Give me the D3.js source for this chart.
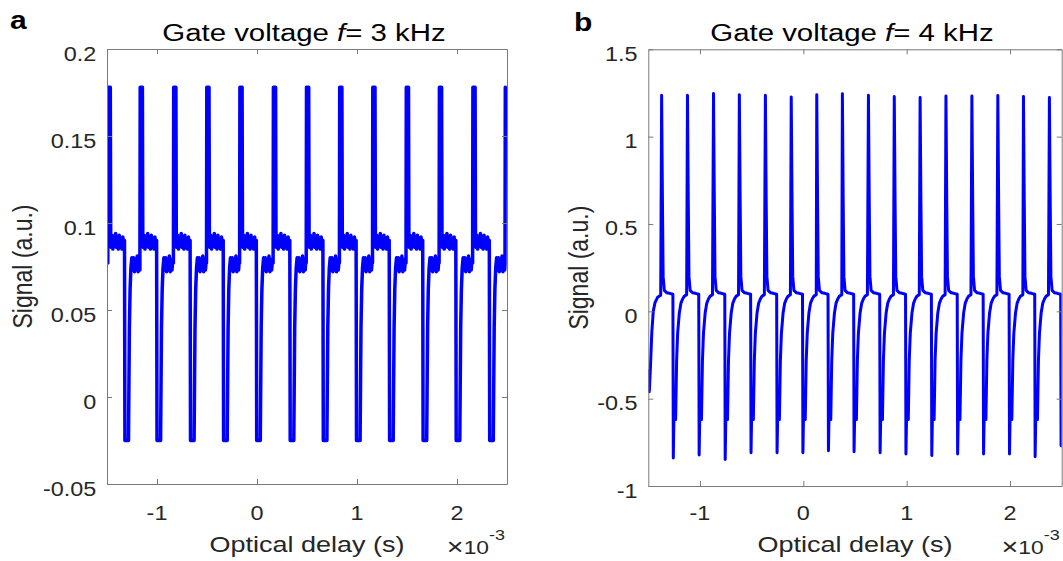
<!DOCTYPE html>
<html>
<head>
<meta charset="utf-8">
<script src="https://cdn.jsdelivr.net/npm/d3@7"></script>
<style>
  body { margin: 0; background: #fff; }
  svg { display: block; font-family: "Liberation Sans", Arial, sans-serif; }
</style>
</head>
<body>
<svg id="chart" width="1063" height="561"></svg>
<script>
// ---- data (time in units of 1e-3 s) ----
const xTicks = [-1, 0, 1, 2];
const leftYTicks = [-0.05, 0, 0.05, 0.1, 0.15, 0.2];
const rightYTicks = [-1, -0.5, 0, 0.5, 1, 1.5];

// panel a: 3 kHz gate, spike centres
const leftSpikeTimes = [-1.477, -1.156, -0.821, -0.49, -0.159, 0.176, 0.507, 0.839, 1.17, 1.505, 1.836, 2.171, 2.495];
const leftPeaks = [0.178, 0.178, 0.178, 0.178, 0.178, 0.178, 0.178, 0.178, 0.178, 0.178, 0.178, 0.178, 0.178];
const leftDips = [-0.025, -0.025, -0.025, -0.025, -0.025, -0.025, -0.025, -0.025, -0.025, -0.025, -0.025, -0.025, -0.025];
const leftLeadIn = [[-1.5, 0.079]];
// one period of the trace, offsets from the spike centre
const leftCycle = [
  [-0.015, 0.077], [-0.012, "peak"], [0.01, "peak"], [0.014, 0.092],
  [0.019, 0.086], [0.027, 0.093], [0.036, 0.085], [0.045, 0.092], [0.054, 0.087],
  [0.063, 0.094], [0.072, 0.086], [0.081, 0.092], [0.09, 0.085], [0.099, 0.093],
  [0.108, 0.087], [0.117, 0.091], [0.126, 0.085], [0.135, 0.092], [0.144, 0.087],
  [0.152, 0.09], [0.156, "dip"], [0.192, "dip"],
  [0.196, 0.005], [0.201, 0.04], [0.208, 0.062], [0.216, 0.074], [0.225, 0.08],
  [0.234, 0.073], [0.243, 0.08], [0.252, 0.072], [0.261, 0.079], [0.27, 0.074],
  [0.279, 0.081], [0.288, 0.072], [0.297, 0.079], [0.306, 0.073], [0.312, 0.078],
];

// panel b: 4 kHz gate
const rightSpikeTimes = [-1.371, -1.121, -0.869, -0.619, -0.367, -0.117, 0.13, 0.378, 0.63, 0.88, 1.13, 1.38, 1.631, 1.882, 2.13, 2.381];
const rightPeaks = [1.237, 1.237, 1.247, 1.24, 1.237, 1.227, 1.24, 1.245, 1.237, 1.23, 1.224, 1.232, 1.232, 1.235, 1.23, 1.224];
const rightDips = [-0.84, -0.823, -0.848, -0.81, -0.81, -0.81, -0.798, -0.804, -0.81, -0.817, -0.826, -0.817, -0.817, -0.817, -0.832, -0.77];
const rightLeadIn = [[-1.5, -0.34], [-1.49, -0.46], [-1.478, -0.3], [-1.466, -0.12], [-1.452, 0.0], [-1.435, 0.05], [-1.41, 0.08], [-1.38, 0.092]];
const rightCycle = [
  [0, "peak"], [0.008, 0.62], [0.0145, 0.2], [0.026, 0.12], [0.051, 0.106],
  [0.077, 0.103], [0.109, 0.098], [0.113, "dip"], [0.123, -0.45], [0.1355, -0.62],
  [0.145, -0.28], [0.155, -0.125], [0.171, -0.01], [0.187, 0.047], [0.204, 0.072],
  [0.22, 0.087], [0.242, 0.095],
];

// ---- build traces from the arrays ----
function buildTrace(leadIn, spikes, peaks, dips, cycle, tEnd) {
  const pts = leadIn.map(([t, v]) => ({ t, v }));
  spikes.forEach((ts, i) => {
    const next = i < spikes.length - 1 ? spikes[i + 1] + cycle[0][0] : Infinity;
    cycle.forEach(([dt, v]) => {
      const t = ts + dt;
      if (t >= next || t > tEnd) return;
      const val = v === "peak" ? peaks[i] : v === "dip" ? dips[i] : v;
      pts.push({ t, v: val });
    });
  });
  return pts;
}

const leftTrace = buildTrace(leftLeadIn, leftSpikeTimes, leftPeaks, leftDips, leftCycle, 2.5);
const rightTrace = buildTrace(rightLeadIn, rightSpikeTimes, rightPeaks, rightDips, rightCycle, 2.52);

const svg = d3.select("#chart");
const axisColor = "#7a7a7a";
const textColor = "#262626";
const sx = 1.2; // the figure is stretched sideways

const panels = [
  {
    tag: "a", tagX: 10, tagY: 29, left: 107, right: 507, top: 49, bottom: 484,
    yDomain: [-0.05, 0.2], yTicks: leftYTicks, trace: leftTrace, freq: "3",
    lw: 3.5, xLabY: 36, yLabX: 32,
  },
  {
    tag: "b", tagX: 574, tagY: 31, left: 648.3, right: 1061.7, top: 49.3, bottom: 486,
    yDomain: [-1, 1.5], yTicks: rightYTicks, trace: rightTrace, freq: "4",
    lw: 3, xLabY: 33.5, yLabX: 588,
  },
];

const defs = svg.append("defs");

panels.forEach((p, i) => {
  const x = d3.scaleLinear().domain([-1.5, 2.5]).range([p.left, p.right]);
  const y = d3.scaleLinear().domain(p.yDomain).range([p.bottom, p.top]);
  const g = svg.append("g");

  defs.append("clipPath").attr("id", `clip${i}`)
    .append("rect")
    .attr("x", p.left).attr("y", p.top)
    .attr("width", p.right - p.left).attr("height", p.bottom - p.top);

  // trace
  const line = d3.line().x((d) => x(d.t)).y((d) => y(d.v));
  g.append("path")
    .datum(p.trace)
    .attr("clip-path", `url(#clip${i})`)
    .attr("fill", "none")
    .attr("stroke", "#0000ff")
    .attr("stroke-width", p.lw)
    .attr("stroke-linejoin", "round")
    .attr("stroke-linecap", "round")
    .attr("d", line);

  // box with inward ticks on all sides
  const axes = [
    [d3.axisBottom(x).tickValues(xTicks), `translate(0,${p.bottom})`],
    [d3.axisTop(x).tickValues(xTicks), `translate(0,${p.top})`],
    [d3.axisLeft(y).tickValues(p.yTicks), `translate(${p.left},0)`],
    [d3.axisRight(y).tickValues(p.yTicks), `translate(${p.right},0)`],
  ];
  axes.forEach(([ax, tr]) => {
    const a = g.append("g")
      .attr("transform", tr)
      .call(ax.tickSize(-5).tickSizeOuter(0).tickFormat(""));
    a.selectAll("path, line").attr("stroke", axisColor).attr("stroke-width", 1);
    a.selectAll("text").remove();
  });

  // x tick labels
  g.selectAll(".xt")
    .data(xTicks)
    .enter()
    .append("text")
    .attr("transform", (d) => `translate(${x(d)},${p.bottom + p.xLabY}) scale(${sx},1)`)
    .attr("text-anchor", "middle")
    .attr("font-size", 19.5)
    .attr("fill", textColor)
    .text((d) => d);

  // y tick labels
  g.selectAll(".yt")
    .data(p.yTicks)
    .enter()
    .append("text")
    .attr("transform", (d) => `translate(${p.left - 10.7},${y(d) + 11.5}) scale(${sx},1)`)
    .attr("text-anchor", "end")
    .attr("font-size", 19.5)
    .attr("fill", textColor)
    .text((d) => d);

  const cx = (p.left + p.right) / 2;
  const cy = (p.top + p.bottom) / 2;

  // title
  const title = g.append("text")
    .attr("transform", `translate(${cx - 3},41) scale(${sx},1)`)
    .attr("text-anchor", "middle")
    .attr("font-size", 24.5)
    .attr("fill", "#000");
  title.append("tspan").text("Gate voltage ");
  title.append("tspan").attr("font-style", "italic").text("f");
  title.append("tspan").text(`= ${p.freq} kHz`);

  // x label
  g.append("text")
    .attr("transform", `translate(${cx},552) scale(${sx},1)`)
    .attr("text-anchor", "middle")
    .attr("font-size", 22.5)
    .attr("fill", textColor)
    .text("Optical delay (s)");

  // exponent
  const ex = g.append("text")
    .attr("transform", `translate(${p.right - 2},554) scale(${sx},1)`)
    .attr("text-anchor", "end")
    .attr("font-size", 19)
    .attr("fill", textColor);
  ex.append("tspan").attr("font-size", 24).attr("dy", 1).text("\u00d7");
  ex.append("tspan").attr("dy", -1).text("10");
  ex.append("tspan").attr("font-size", 15).attr("dy", -14).text("-3");

  // y label
  g.append("text")
    .attr("transform", `translate(${p.yLabX},${cy}) scale(${sx},1) rotate(-90)`)
    .attr("text-anchor", "middle")
    .attr("font-size", 23)
    .attr("fill", textColor)
    .text("Signal (a.u.)");

  // panel letter
  svg.append("text")
    .attr("transform", `translate(${p.tagX},${p.tagY}) scale(${sx},1)`)
    .attr("font-size", 25)
    .attr("font-weight", "bold")
    .attr("fill", "#000")
    .text(p.tag);
});
</script>
</body>
</html>
